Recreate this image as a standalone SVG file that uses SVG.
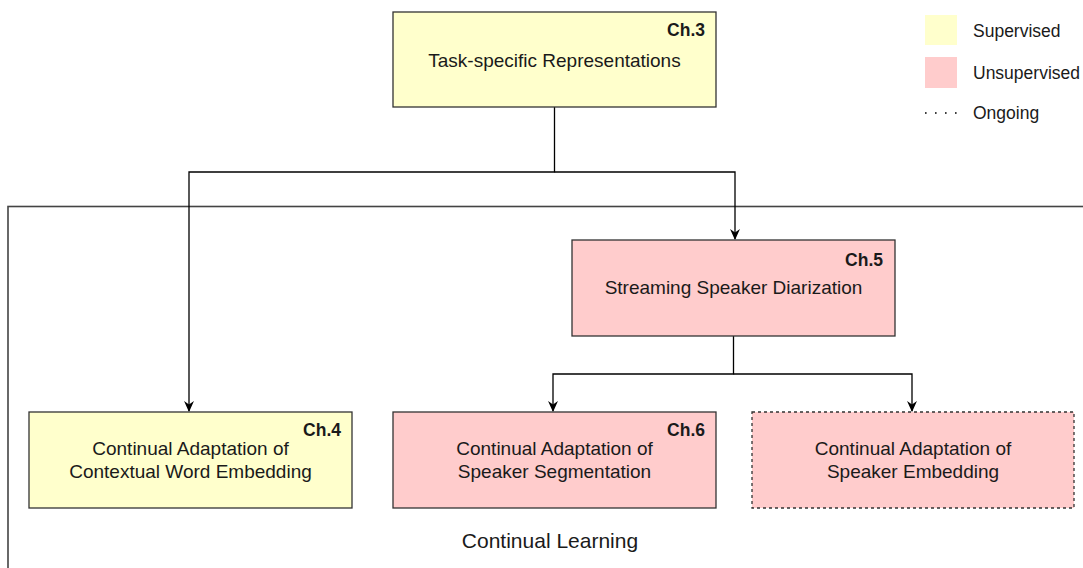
<svg xmlns="http://www.w3.org/2000/svg" width="1083" height="568" viewBox="0 0 1083 568">
<style>
  text { font-family: "Liberation Sans", Arial, sans-serif; fill: #1a1a1a; }
  .lbl { font-size: 19px; text-anchor: middle; }
  .ch { font-size: 17.5px; font-weight: bold; text-anchor: end; }
  .leg { font-size: 17.5px; }
  .sup { fill: #ffffcc; stroke: #333333; stroke-width: 1.3; }
  .uns { fill: #ffcccc; stroke: #333333; stroke-width: 1.3; }
  .conn { fill: none; stroke: #000000; stroke-width: 1.3; }
</style>
<defs>
  <marker id="arr" viewBox="0 0 10 10" refX="9" refY="5" markerWidth="11" markerHeight="11" markerUnits="userSpaceOnUse" orient="auto">
    <path d="M0,0.5 L10,5 L0,9.5 L3,5 Z" fill="#000000"/>
  </marker>
</defs>

<g id="frame">
  <rect x="8" y="206.5" width="1100" height="400" fill="none" stroke="#444444" stroke-width="1.6"/>
  <text x="550" y="548" style="font-size:21px" text-anchor="middle">Continual Learning</text>
</g>

<g id="connectors">
  <path class="conn" d="M554.5,107 V172 H189 V411" marker-end="url(#arr)"/>
  <path class="conn" d="M554.5,172 H735 V239" marker-end="url(#arr)"/>
  <path class="conn" d="M733.5,336 V374 H553 V411" marker-end="url(#arr)"/>
  <path class="conn" d="M733.5,374 H912 V411" marker-end="url(#arr)"/>
</g>

<g id="ch3">
  <rect class="sup" x="393" y="12" width="323" height="95"/>
  <text class="ch" x="705" y="36">Ch.3</text>
  <text class="lbl" x="554.5" y="66.5">Task-specific Representations</text>
</g>

<g id="ch5">
  <rect class="uns" x="572" y="240" width="323" height="96"/>
  <text class="ch" x="883" y="266">Ch.5</text>
  <text class="lbl" x="733.5" y="294">Streaming Speaker Diarization</text>
</g>

<g id="ch4">
  <rect class="sup" x="29" y="412" width="323" height="96"/>
  <text class="ch" x="341" y="436">Ch.4</text>
  <text class="lbl" x="190.5" y="455">Continual Adaptation of</text>
  <text class="lbl" x="190.5" y="478">Contextual Word Embedding</text>
</g>

<g id="ch6">
  <rect class="uns" x="393" y="412" width="323" height="96"/>
  <text class="ch" x="705" y="436">Ch.6</text>
  <text class="lbl" x="554.5" y="455">Continual Adaptation of</text>
  <text class="lbl" x="554.5" y="478">Speaker Segmentation</text>
</g>

<g id="spk-emb">
  <rect class="uns" x="752" y="412" width="322" height="96" stroke-dasharray="3,3"/>
  <text class="lbl" x="913" y="455">Continual Adaptation of</text>
  <text class="lbl" x="913" y="478">Speaker Embedding</text>
</g>

<g id="legend">
  <rect x="925" y="15" width="32" height="30" fill="#ffffcc"/>
  <text class="leg" x="973" y="37">Supervised</text>
  <rect x="925" y="57" width="32" height="31" fill="#ffcccc"/>
  <text class="leg" x="973" y="78.5">Unsupervised</text>
  <line x1="925" y1="113" x2="958" y2="113" stroke="#000000" stroke-width="1.6" stroke-dasharray="1.6,8.4"/>
  <text class="leg" x="973" y="119">Ongoing</text>
</g>
</svg>
